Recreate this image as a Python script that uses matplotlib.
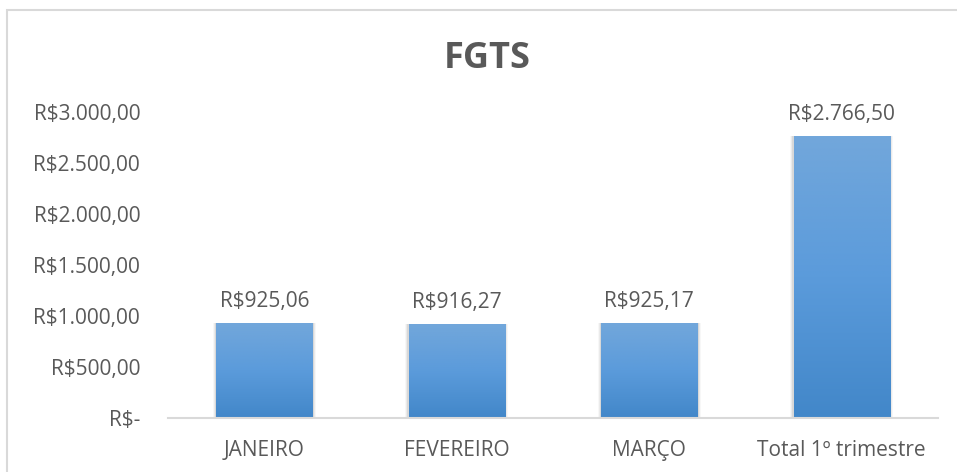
import numpy as np
import matplotlib.pyplot as plt
from matplotlib.colors import LinearSegmentedColormap
from matplotlib.patches import Rectangle

categories = ["JANEIRO", "FEVEREIRO", "MARÇO", "Total 1º trimestre"]
values = [925.06, 916.27, 925.17, 2766.50]
value_labels = ["R$925,06", "R$916,27", "R$925,17", "R$2.766,50"]
yticks = [0, 500, 1000, 1500, 2000, 2500, 3000]
ytick_labels = ["R$-", "R$500,00", "R$1.000,00", "R$1.500,00",
                "R$2.000,00", "R$2.500,00", "R$3.000,00"]

plt.rcParams["font.family"] = ["Open Sans", "DejaVu Sans"]
TEXT = "#595959"
FS = 15

W, H = 957, 472
fig = plt.figure(figsize=(W / 100, H / 100), dpi=100)

# chart border like the Excel chart area
fig.patches.append(Rectangle((7.5 / W, -0.1), 1.2, 1 - 9.5 / H + 0.1,
                             transform=fig.transFigure, fill=False,
                             edgecolor="#d9d9d9", linewidth=1.5))

ax = fig.add_axes([168 / W, 1 - 417.5 / H, (938 - 168) / W, (417.5 - 112) / H])

x = np.arange(len(categories))
width = 0.5
cmap = LinearSegmentedColormap.from_list("bar", ["#4287c9", "#5b9bdb", "#72a7db"])
grad = np.linspace(0, 1, 256).reshape(-1, 1)

bars = ax.bar(x, values, width=width, color="none", zorder=3)
for b in bars:
    x0, w, h = b.get_x(), b.get_width(), b.get_height()
    # soft shadow
    for i, a in enumerate([0.08, 0.05, 0.03]):
        d = (i + 1) * 0.006
        ax.add_patch(Rectangle((x0 - d, -8), w + 2 * d, h + 8 + d * 40,
                               facecolor="black", alpha=a, edgecolor="none", zorder=2))
    im = ax.imshow(grad, extent=(x0, x0 + w, 0, h), origin="lower", cmap=cmap,
                   aspect="auto", zorder=3)
    im.set_clip_path(b)

for xi, v, lab in zip(x, values, value_labels):
    ax.annotate(lab, (xi, v), xytext=(0, 8), textcoords="offset points",
                ha="center", va="bottom", fontsize=FS, color=TEXT,
                annotation_clip=False)

ax.set_xlim(-0.5, len(categories) - 0.5)
ax.set_ylim(0, 3000)
ax.set_yticks(yticks)
ax.set_yticklabels(ytick_labels)
ax.set_xticks(x)
ax.set_xticklabels(categories)
ax.tick_params(axis="y", length=0, pad=20, labelsize=FS, labelcolor=TEXT)
ax.tick_params(axis="x", length=0, pad=16, labelsize=FS, labelcolor=TEXT)

for s in ["top", "right", "left"]:
    ax.spines[s].set_visible(False)
ax.spines["bottom"].set_color("#d9d9d9")
ax.spines["bottom"].set_linewidth(1.5)
ax.spines["bottom"].set_zorder(4)

fig.text(487 / W, 1 - 59 / H, "FGTS", ha="center", va="center",
         fontsize=26, fontweight="bold", color=TEXT)

fig.savefig("out.png", dpi=100)
